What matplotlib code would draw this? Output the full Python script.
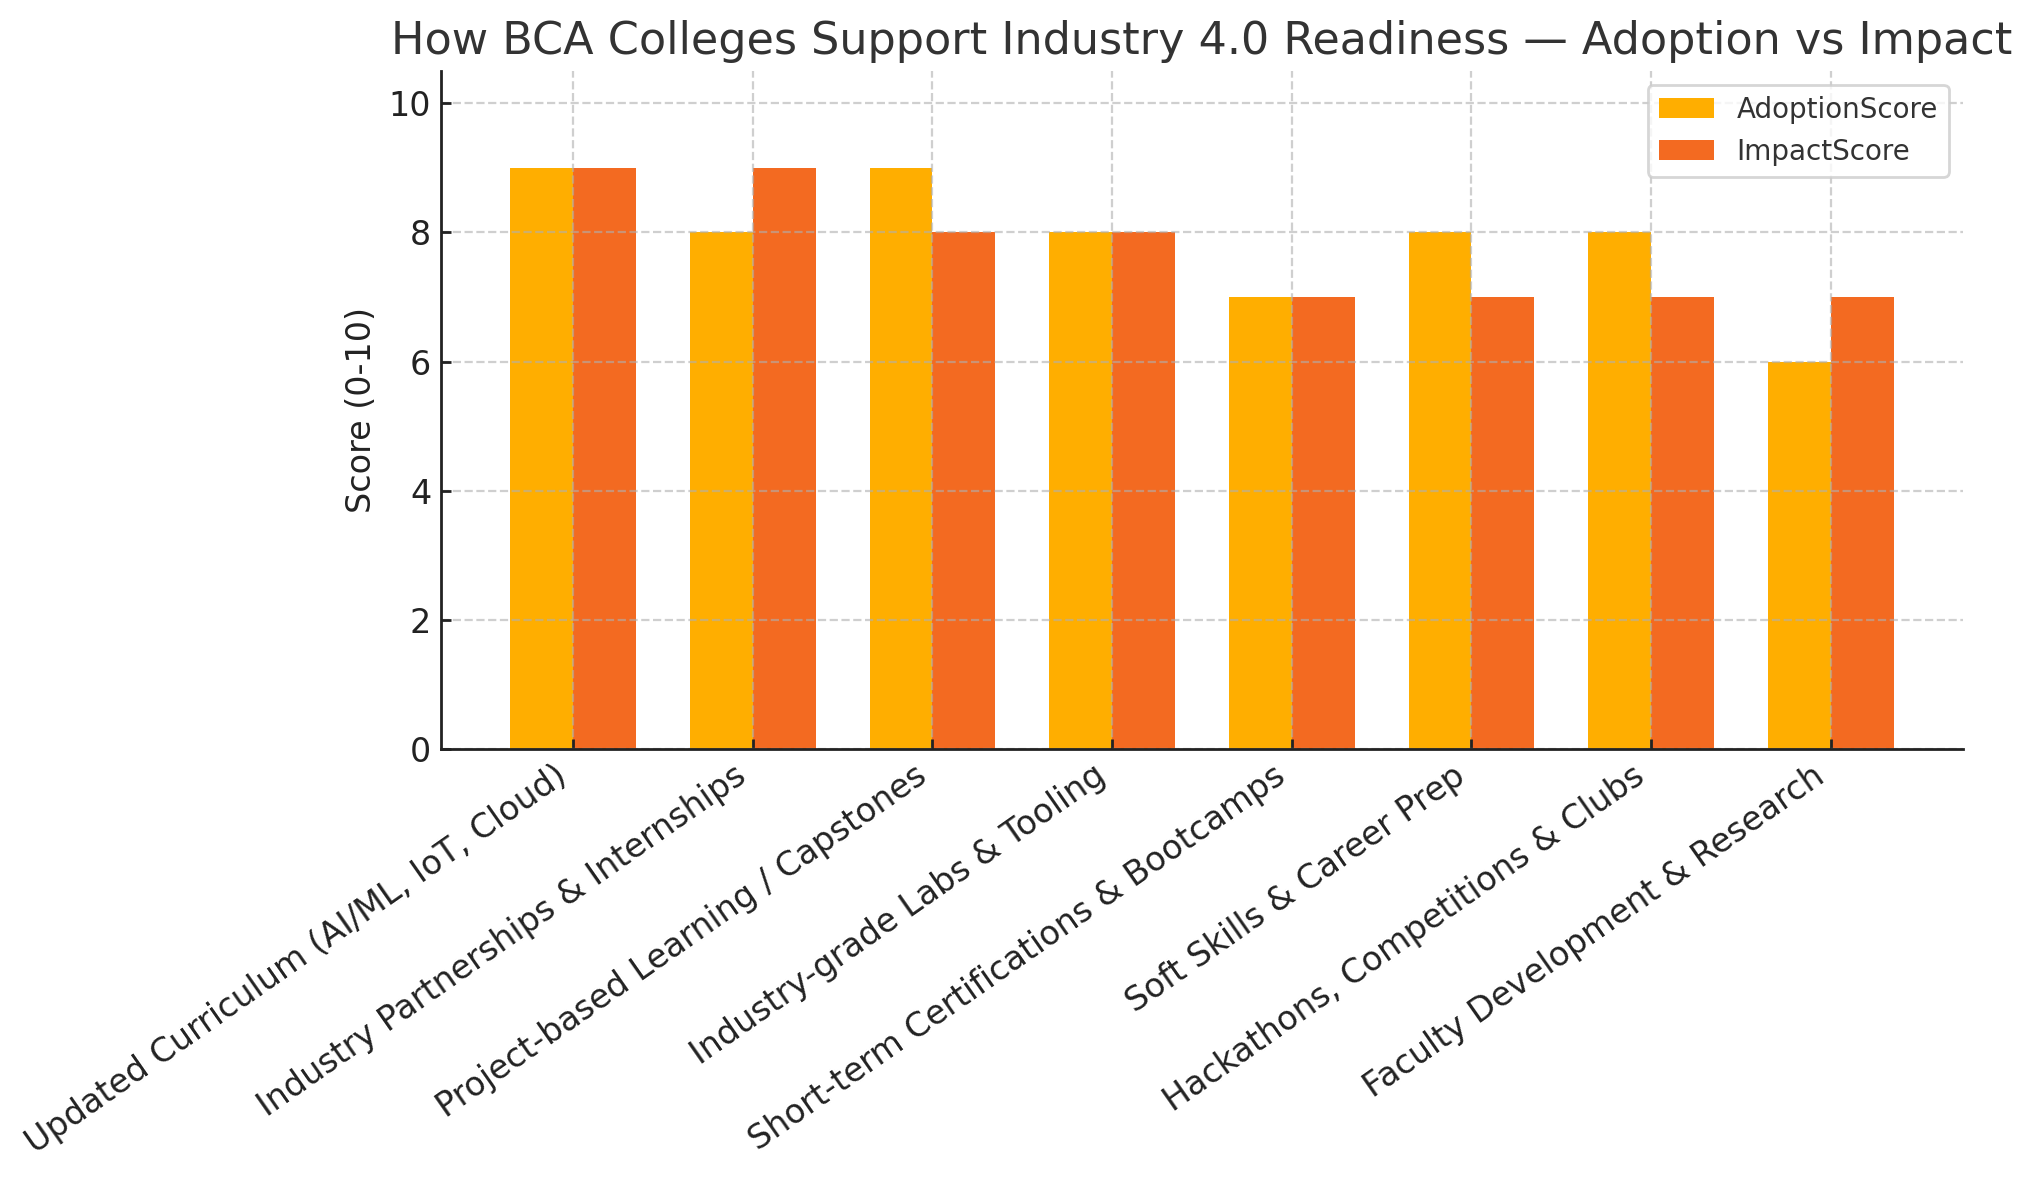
import numpy as np
import matplotlib
matplotlib.use("Agg")
import matplotlib.pyplot as plt

categories = [
    "Updated Curriculum (AI/ML, IoT, Cloud)",
    "Industry Partnerships & Internships",
    "Project-based Learning / Capstones",
    "Industry-grade Labs & Tooling",
    "Short-term Certifications & Bootcamps",
    "Soft Skills & Career Prep",
    "Hackathons, Competitions & Clubs",
    "Faculty Development & Research",
]
adoption_score = [9, 8, 9, 8, 7, 8, 8, 6]
impact_score = [9, 9, 8, 8, 7, 7, 7, 7]

plt.rcParams['font.family'] = ['DejaVu Sans']

fig = plt.figure(figsize=(10.16, 5.9), dpi=200)
ax = fig.add_axes([0.217, 0.365, 0.749, 0.575])

x = np.arange(len(categories))
width = 0.35
ax.bar(x - width / 2, adoption_score, width, label="AdoptionScore", color="#FFAE00")
ax.bar(x + width / 2, impact_score, width, label="ImpactScore", color="#F36A21")

ax.set_ylim(0, 10.5)
ax.set_yticks([0, 2, 4, 6, 8, 10])
ax.set_xticks(x)
ax.set_xticklabels(categories, rotation=35, ha="right", fontsize=12, color="#222222")
ax.tick_params(axis="y", labelsize=12, labelcolor="#222222")
ax.tick_params(direction="in", length=3.5, width=1, color="#222222")

ax.set_ylabel("Score (0-10)", fontsize=12, color="#222222", labelpad=4)
ax.set_title("How BCA Colleges Support Industry 4.0 Readiness \u2014 Adoption vs Impact",
             fontsize=16, color="#333333", pad=6)

ax.grid(True, linestyle="--", linewidth=0.8, color="#b0b0b0", alpha=0.6)
ax.set_axisbelow(False)

for side in ["top", "right"]:
    ax.spines[side].set_visible(False)
for side in ["left", "bottom"]:
    ax.spines[side].set_color("#222222")
    ax.spines[side].set_linewidth(1.0)
    ax.spines[side].set_zorder(4)

leg = ax.legend(loc="upper right", fontsize=10, frameon=True)
for t in leg.get_texts():
    t.set_color("#333333")
leg.get_frame().set_edgecolor("#cccccc")

fig.savefig("out.png", dpi=200)
